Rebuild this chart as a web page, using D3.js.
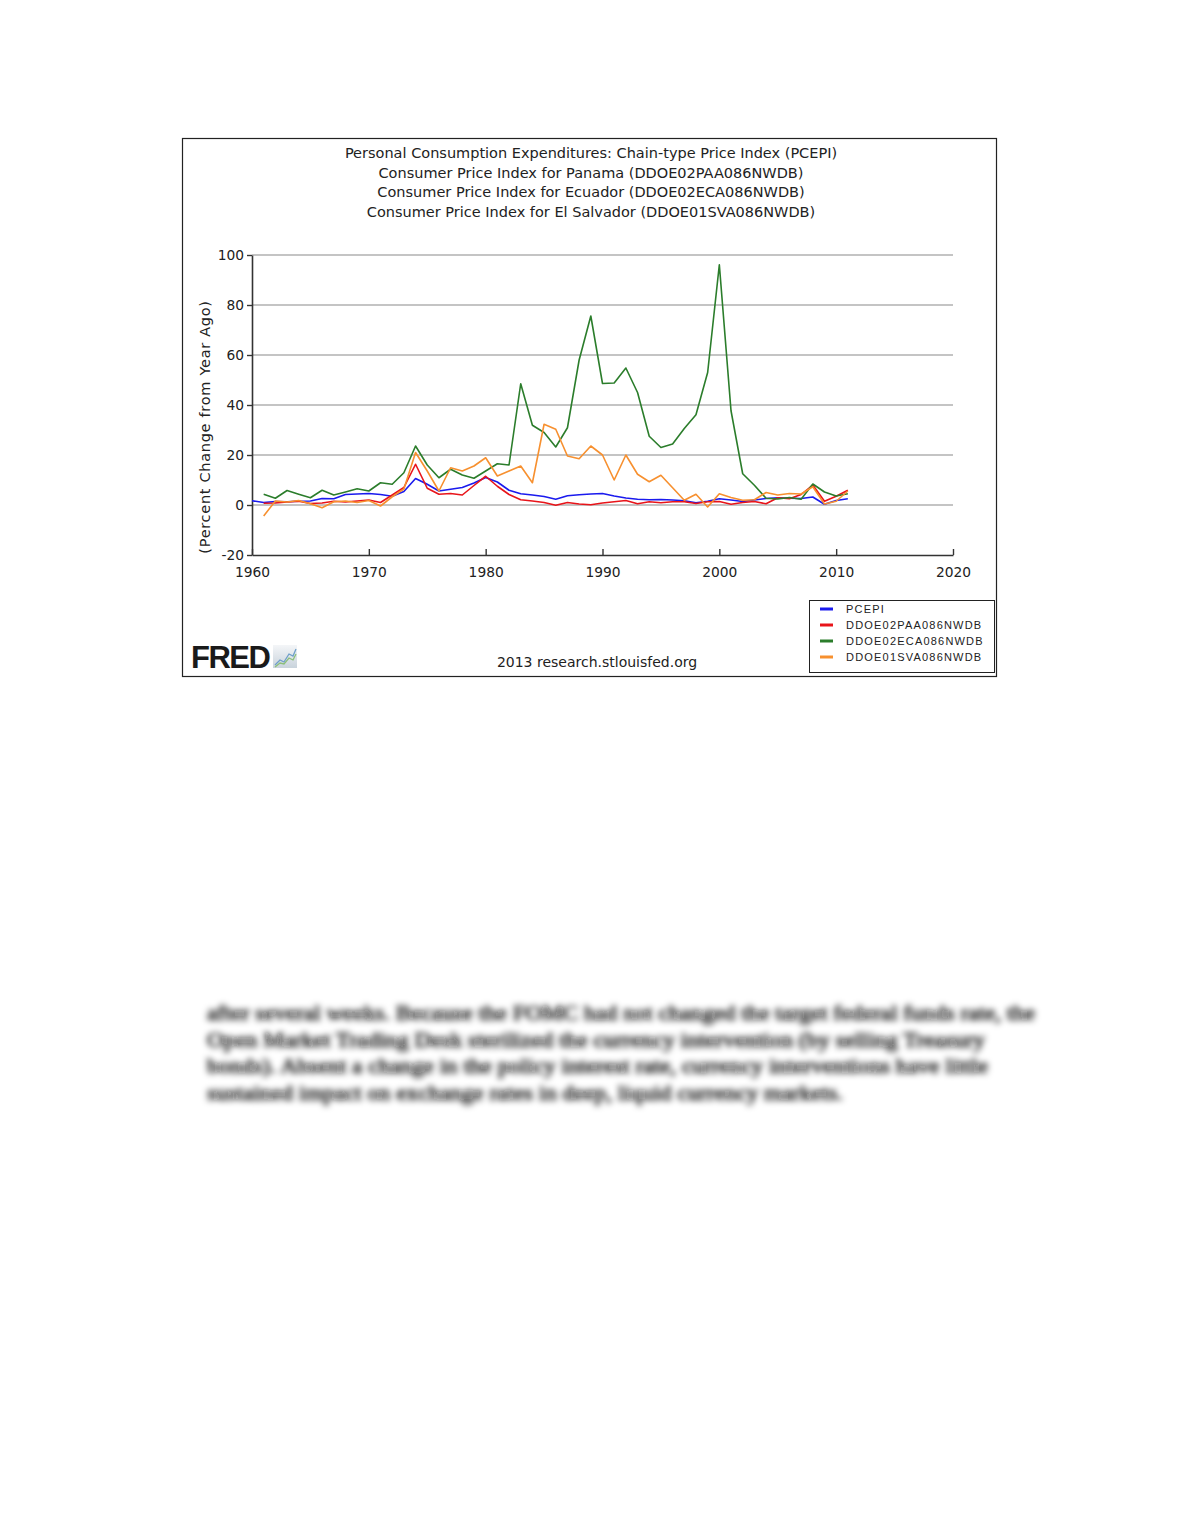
<!DOCTYPE html>
<html><head><meta charset="utf-8">
<script src="https://cdn.jsdelivr.net/npm/d3@7"></script>
<style>body{margin:0;background:#fff} svg{display:block}</style>
</head><body>
<script>
// ---- data ----
const years = d3.range(1960, 2012);
const titleLines = [
  "Personal Consumption Expenditures: Chain-type Price Index (PCEPI)",
  "Consumer Price Index for Panama (DDOE02PAA086NWDB)",
  "Consumer Price Index for Ecuador (DDOE02ECA086NWDB)",
  "Consumer Price Index for El Salvador (DDOE01SVA086NWDB)"
];
const seriesNames = ["PCEPI", "DDOE02PAA086NWDB", "DDOE02ECA086NWDB", "DDOE01SVA086NWDB"];
const seriesColors = ["#1a1aee", "#e8141a", "#2b7d2b", "#f7902f"];
// values 1960..2011 (null = no data)
const pcepi = [1.7,1.0,1.4,1.3,1.5,1.6,2.6,2.5,4.2,4.4,4.6,4.2,3.5,5.4,10.6,8.3,5.6,6.3,7.0,8.8,
  11.0,9.2,5.9,4.5,4.0,3.4,2.3,3.7,4.1,4.4,4.6,3.6,2.8,2.3,2.1,2.2,2.0,1.7,0.9,1.5,
  2.5,2.0,1.4,2.0,2.6,2.9,2.7,2.6,3.2,0.3,1.8,2.5];
const panama = [null,0.7,0.8,1.2,1.5,0.6,0.8,1.5,1.2,1.6,2.0,1.0,4.0,7.0,16.3,6.7,4.3,4.6,4.0,7.8,
  11.5,7.5,4.2,2.1,1.6,1.0,-0.1,1.0,0.4,0.1,0.8,1.3,1.8,0.5,1.3,0.9,1.3,1.3,0.6,1.3,
  1.4,0.3,1.0,1.4,0.5,2.9,2.5,4.2,8.0,1.5,3.5,5.9];
const ecuador = [null,4.3,2.7,5.8,4.3,2.9,5.9,4.0,5.2,6.5,5.6,8.9,8.3,12.9,23.6,16.0,10.9,14.3,12.0,10.7,
  13.6,16.5,16.0,48.5,31.9,29.0,23.2,30.9,58.0,75.6,48.6,48.8,54.8,45.0,27.5,23.0,24.4,30.6,36.1,53.0,
  96.1,37.7,12.5,7.9,2.7,2.4,3.0,2.3,8.4,5.2,3.6,4.5];
const elSalvador = [null,-4.4,1.6,1.2,1.8,0.5,-1.1,1.3,1.6,1.0,1.8,-0.4,3.3,6.4,21.0,13.6,5.6,14.9,13.6,15.6,
  18.9,11.6,13.6,15.6,8.9,32.3,30.3,19.6,18.5,23.6,20.0,10.0,20.0,12.3,9.3,11.9,6.9,1.9,4.3,-0.8,
  4.5,3.0,1.9,2.1,5.0,4.0,4.6,4.4,7.3,0.4,1.5,5.6];
const seriesValues = [pcepi, panama, ecuador, elSalvador];
const xTicks = [1960,1970,1980,1990,2000,2010,2020];
const yTicks = [-20,0,20,40,60,80,100];
const yLabel = "(Percent Change from Year Ago)";
const footer = "2013 research.stlouisfed.org";
const paragraph = [
  "after several weeks. Because the FOMC had not changed the target federal funds rate, the",
  "Open Market Trading Desk sterilized the currency intervention (by selling Treasury",
  "bonds). Absent a change in the policy interest rate, currency interventions have little",
  "sustained impact on exchange rates in deep, liquid currency markets."
];
const paragraphWidths = [828, 778, 781, 636];

// ---- drawing ----
const W = 1180, H = 1527;
const svg = d3.select("body").append("svg").attr("width", W).attr("height", H);
svg.append("rect").attr("width", W).attr("height", H).attr("fill", "#fff");

const x = d3.scaleLinear().domain([1960, 2020]).range([252, 953]);
const y = d3.scaleLinear().domain([-20, 100]).range([555, 255]);

// frame
svg.append("rect").attr("x", 182.5).attr("y", 138.5).attr("width", 814).attr("height", 538)
  .attr("fill", "#fff").attr("stroke", "#222").attr("stroke-width", 1.2);

// titles
svg.append("g").selectAll("text").data(titleLines).join("text")
  .attr("x", 591).attr("y", (d, i) => 158 + i * 19.6)
  .attr("text-anchor", "middle")
  .attr("font-family", "'DejaVu Sans',sans-serif").attr("font-size", 14.5).attr("fill", "#222")
  .text(d => d);

// gridlines
svg.append("g").selectAll("line").data(yTicks.filter(t => t > -20)).join("line")
  .attr("x1", x(1960)).attr("x2", x(2020))
  .attr("y1", d => y(d)).attr("y2", d => y(d))
  .attr("stroke", "#c4c4c4").attr("stroke-width", 1.8);

// axes
const yAxis = d3.axisLeft(y).tickValues(yTicks).tickFormat(d => String(d)).tickSize(5).tickPadding(3).tickSizeOuter(0);
const gy = svg.append("g").attr("transform", `translate(${x(1960)},0)`).call(yAxis);
const xAxis = d3.axisBottom(x).tickValues(xTicks).tickFormat(d3.format("d")).tickSize(-6).tickPadding(10).tickSizeOuter(0);
const gx = svg.append("g").attr("transform", `translate(0,${y(-20)})`).call(xAxis);
[gx, gy].forEach(g => {
  g.select(".domain").attr("stroke", "#333").attr("stroke-width", 1.6);
  g.selectAll(".tick line").attr("stroke", "#333").attr("stroke-width", 1.4);
  g.selectAll("text").attr("font-family", "'DejaVu Sans',sans-serif").attr("font-size", 13.8).attr("fill", "#222");
});
gx.selectAll(".tick text").attr("dy", "0.9em");

// y label
svg.append("text").attr("transform", "translate(210,427) rotate(-90)")
  .attr("text-anchor", "middle").attr("font-family", "'DejaVu Sans',sans-serif")
  .attr("font-size", 14.5).attr("letter-spacing", 0.7).attr("fill", "#222").text(yLabel);

// lines
const line = d3.line().defined(d => d[1] !== null).x(d => x(d[0])).y(d => y(d[1]));
svg.append("g").selectAll("path").data(seriesValues).join("path")
  .attr("d", vals => line(years.map((yr, i) => [yr, vals[i]])))
  .attr("fill", "none").attr("stroke", (d, i) => seriesColors[i])
  .attr("stroke-width", 1.6).attr("stroke-linejoin", "round");

// legend
const lg = svg.append("g");
lg.append("rect").attr("x", 809.5).attr("y", 600.5).attr("width", 185).attr("height", 72)
  .attr("fill", "#fff").attr("stroke", "#222").attr("stroke-width", 1);
const items = lg.selectAll("g.item").data(seriesNames).join("g").attr("class", "item")
  .attr("transform", (d, i) => `translate(0,${609 + i * 16})`);
items.append("line").attr("x1", 820).attr("x2", 833).attr("y1", 0).attr("y2", 0)
  .attr("stroke", (d, i) => seriesColors[i]).attr("stroke-width", 3);
items.append("text").attr("x", 846).attr("y", 0).attr("dy", "0.35em")
  .attr("font-family", "'Liberation Sans',Arial,sans-serif").attr("font-size", 11)
  .attr("letter-spacing", 1.2).attr("fill", "#222").text(d => d);

// FRED logo
svg.append("text").attr("x", 191).attr("y", 668)
  .attr("font-family", "'Liberation Sans',Arial,sans-serif").attr("font-weight", "bold")
  .attr("font-size", 31).attr("letter-spacing", -1.5).attr("fill", "#1a1a1a").text("FRED");
const defs = svg.append("defs");
const grad = defs.append("linearGradient").attr("id", "ig").attr("x1", 0).attr("y1", 0).attr("x2", 0).attr("y2", 1);
grad.append("stop").attr("offset", 0).attr("stop-color", "#f4f6f8");
grad.append("stop").attr("offset", 1).attr("stop-color", "#c9d3dc");
const ig = svg.append("g").attr("transform", "translate(273,645)");
ig.append("rect").attr("width", 24).attr("height", 23).attr("fill", "url(#ig)");
ig.append("path").attr("d", "M2,20 L7,15 L11,17 L16,9 L20,11 L23,4").attr("fill", "none").attr("stroke", "#6f9fc9").attr("stroke-width", 1.3);
ig.append("path").attr("d", "M2,22 L7,18 L11,19 L16,13 L20,15 L23,9").attr("fill", "none").attr("stroke", "#8cbf7a").attr("stroke-width", 1.3);

// footer
svg.append("text").attr("x", 597).attr("y", 667).attr("text-anchor", "middle")
  .attr("font-family", "'DejaVu Sans',sans-serif").attr("font-size", 14).attr("fill", "#222").text(footer);

// blurred paragraph
defs.append("filter").attr("id", "blur").attr("x", "-5%").attr("y", "-50%").attr("width", "110%").attr("height", "200%")
  .append("feGaussianBlur").attr("stdDeviation", 3.4);
svg.append("g").attr("filter", "url(#blur)").selectAll("text").data(paragraph).join("text")
  .attr("x", 207).attr("y", (d, i) => 1020 + i * 26.5)
  .attr("font-family", "'Liberation Serif','Times New Roman',serif").attr("font-size", 21)
  .attr("textLength", (d, i) => paragraphWidths[i]).attr("lengthAdjust", "spacingAndGlyphs")
  .attr("fill", "#111").attr("stroke", "#111").attr("stroke-width", 0.6).text(d => d);
</script>
</body></html>
